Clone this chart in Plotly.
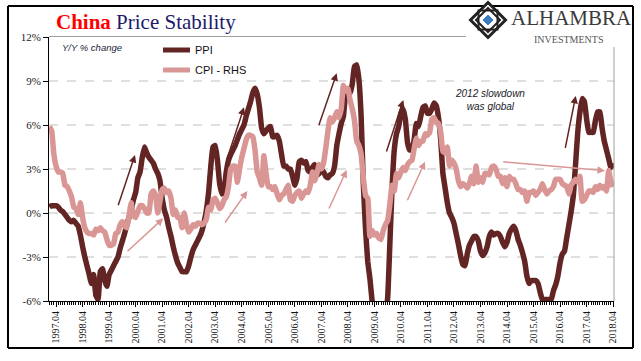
import plotly.graph_objects as go

# ---------------- data (monthly, Jan 1997 .. Apr 2018) ----------------
ppi = [
    0.4, 0.5, 0.5, 0.5, 0.4, 0.2, 0.1, -0.1, -0.3, -0.5, -0.6, -0.5,          # 1997
    -0.7, -0.9, -1.5, -2.3, -3.0, -3.6, -4.2, -4.8, -4.2, -5.6, -5.9, -4.0,   # 1998
    -3.8, -4.6, -5.0, -4.2, -3.9, -3.6, -3.3, -3.0, -2.4, -1.9, -1.4, -0.8,   # 1999
    -0.3, 0.2, 0.9, 1.4, 2.4, 2.8, 3.8, 4.5, 4.1, 3.8, 3.6, 3.4,              # 2000
    3.0, 2.7, 2.2, 1.0, 0.2, -0.3, -1.0, -1.6, -2.3, -2.9, -3.4, -3.7,        # 2001
    -4.0, -4.0, -4.0, -3.6, -3.0, -2.5, -2.2, -1.9, -1.6, -1.2, -0.6, 0.2,    # 2002
    1.4, 3.2, 4.5, 4.6, 3.6, 2.0, 1.3, 1.6, 2.8, 3.6, 4.0, 4.3,               # 2003
    4.6, 5.0, 5.4, 5.7, 6.0, 6.6, 7.1, 7.6, 8.2, 8.5, 8.1, 7.2,               # 2004
    5.8, 5.4, 5.6, 5.8, 5.9, 5.2, 5.2, 5.3, 4.9, 4.0, 3.2, 3.2,               # 2005
    3.0, 3.0, 2.5, 1.9, 2.4, 3.5, 3.6, 3.4, 3.5, 2.9, 2.8, 3.1,               # 2006
    3.3, 2.6, 2.7, 2.9, 2.8, 2.5, 2.4, 2.6, 2.7, 3.2, 4.6, 5.4,               # 2007
    6.1, 6.6, 8.0, 8.1, 8.2, 8.8, 10.0, 10.1, 9.1, 6.6, 2.0, -1.1,            # 2008
    -3.3, -4.5, -6.0, -6.6, -7.2, -7.8, -8.2, -7.9, -7.0, -5.8, -2.1, 1.7,    # 2009
    4.3, 5.4, 5.9, 6.8, 7.1, 6.4, 4.8, 4.3, 4.3, 5.0, 6.1, 5.9,               # 2010
    6.6, 7.2, 7.3, 6.8, 6.8, 7.1, 7.5, 7.3, 6.5, 5.0, 2.7, 1.7,               # 2011
    0.7, 0.0, -0.3, -0.7, -1.4, -2.1, -2.9, -3.5, -3.6, -2.8, -2.2, -1.9,     # 2012
    -1.6, -1.6, -1.9, -2.6, -2.9, -2.7, -2.3, -1.6, -1.3, -1.5, -1.4, -1.4,   # 2013
    -1.6, -2.0, -2.3, -2.0, -1.4, -1.1, -0.9, -1.2, -1.8, -2.2, -2.7, -3.3,   # 2014
    -4.3, -4.8, -4.6, -4.6, -4.6, -4.8, -5.4, -5.9, -5.9, -5.9, -5.9, -5.9,   # 2015
    -5.3, -4.9, -4.3, -3.4, -2.8, -2.6, -1.7, -0.8, 0.1, 1.2, 3.3, 5.5,       # 2016
    6.9, 7.8, 7.6, 6.4, 5.5, 5.5, 5.5, 6.3, 6.9, 6.9, 5.8, 4.9,               # 2017
    4.3, 3.7, 3.1, 3.4,                                                       # 2018
]

cpi = [
    5.9, 5.6, 4.0, 3.2, 2.8, 2.8, 2.7, 1.9, 1.8, 1.5, 1.1, 0.4,               # 1997
    0.3, -0.1, 0.7, -0.3, -1.0, -1.3, -1.4, -1.4, -1.5, -1.1, -1.2, -1.0,     # 1998
    -1.2, -1.3, -1.8, -2.2, -2.2, -2.1, -1.4, -1.3, -0.8, -0.6, -0.9, -1.0,   # 1999
    -0.2, 0.7, -0.2, -0.3, 0.1, 0.5, 0.5, 0.3, 0.0, 0.0, 1.3, 1.5,            # 2000
    1.2, 0.0, 0.8, 1.6, 1.7, 1.4, 1.5, 1.0, -0.1, 0.2, -0.3, -0.3,           # 2001
    -1.0, 0.0, -0.8, -1.3, -1.1, -0.8, -0.9, -0.7, -0.7, -0.8, -0.7, -0.4,    # 2002
    0.4, 0.2, 0.9, 1.0, 0.7, 0.3, 0.5, 0.9, 1.1, 1.8, 3.0, 3.2,               # 2003
    3.2, 2.1, 3.0, 3.8, 4.4, 5.0, 5.3, 5.3, 5.2, 4.3, 2.8, 2.4,               # 2004
    1.9, 3.9, 2.7, 1.8, 1.8, 1.6, 1.8, 1.3, 0.9, 1.2, 1.3, 1.6,               # 2005
    1.9, 0.9, 0.8, 1.2, 1.4, 1.5, 1.0, 1.3, 1.5, 1.4, 1.9, 2.8,               # 2006
    2.2, 2.7, 3.3, 3.0, 3.4, 4.4, 5.6, 6.5, 6.2, 6.5, 6.9, 6.5,               # 2007
    7.1, 8.7, 8.3, 8.5, 7.7, 7.1, 6.3, 4.9, 4.6, 4.0, 2.4, 1.2,               # 2008
    1.0, -1.6, -1.2, -1.5, -1.4, -1.7, -1.8, -1.2, -0.8, -0.5, 0.6, 1.9,      # 2009
    1.5, 2.7, 2.4, 2.8, 3.1, 2.9, 3.3, 3.5, 3.6, 4.4, 5.1, 4.6,               # 2010
    4.9, 4.9, 5.4, 5.3, 5.5, 6.4, 6.5, 6.2, 6.1, 5.5, 4.2, 4.1,               # 2011
    4.5, 3.2, 3.6, 3.4, 3.0, 2.2, 1.8, 2.0, 1.9, 1.7, 2.0, 2.5,               # 2012
    2.0, 3.2, 2.1, 2.4, 2.1, 2.7, 2.7, 2.6, 3.1, 3.2, 3.0, 2.5,               # 2013
    2.5, 2.0, 2.4, 1.8, 2.5, 2.3, 2.3, 2.0, 1.6, 1.6, 1.4, 1.5,               # 2014
    0.8, 1.4, 1.4, 1.5, 1.2, 1.4, 1.6, 2.0, 1.6, 1.3, 1.5, 1.6,               # 2015
    1.8, 2.3, 2.3, 2.3, 2.0, 1.9, 1.8, 1.3, 1.9, 2.1, 2.3, 2.1,               # 2016
    2.5, 0.8, 0.9, 1.2, 1.5, 1.5, 1.4, 1.8, 1.6, 1.9, 1.7, 1.8,               # 2017
    1.5, 2.9, 2.1, 1.8,                                                       # 2018
]

months = [f"{1997 + i // 12}.{i % 12 + 1:02d}" for i in range(len(ppi))]
x_tick_idx = [i for i, m in enumerate(months) if m.endswith(".04")]
x_tick_labels = [months[i] for i in x_tick_idx]
y_ticks = [-6, -3, 0, 3, 6, 9, 12]
y_tick_labels = ["-6%", "-3%", "0%", "3%", "6%", "9%", "12%"]
grid_levels = [-3, 0, 3, 6, 9]

# ---------------- styling ----------------
PPI_COLOR = "#632523"
CPI_COLOR = "#D99694"
W, H = 641, 361
L, R, T, B = 49, 27, 37, 60
PW, PH = W - L - R, H - T - B


def px(xp):
    return (xp - L) / PW


def py(yp):
    return (H - B - yp) / PH


xs = list(range(len(months)))

fig = go.Figure()
fig.add_trace(go.Scatter(x=xs, y=ppi, mode="lines", name="PPI",
                         line=dict(color=PPI_COLOR, width=5.5, shape="spline", smoothing=0.4),
                         showlegend=False))
fig.add_trace(go.Scatter(x=xs, y=cpi, mode="lines", name="CPI - RHS", yaxis="y2",
                         line=dict(color=CPI_COLOR, width=5.5, shape="spline", smoothing=0.4),
                         showlegend=False))

shapes = []
for g in grid_levels:
    shapes.append(dict(type="line", xref="paper", yref="y", x0=0, x1=1, y0=g, y1=g,
                       line=dict(color="#BFBFBF", width=1, dash="dash"), layer="below"))
# top gray rule and right gray axis
shapes.append(dict(type="line", xref="paper", yref="paper", x0=0, x1=px(466), y0=py(36.5), y1=py(36.5),
                   line=dict(color="#A0A0A0", width=1)))
shapes.append(dict(type="line", xref="paper", yref="paper", x0=px(614), x1=px(614), y0=py(47), y1=0,
                   line=dict(color="#A0A0A0", width=1)))
# outer border (four lines)
bx0, bx1, by0, by1 = px(8), px(633), py(348), py(6)
for (a, b, c, d) in [(bx0, by1, bx1, by1), (bx0, by0, bx1, by0), (bx0, by0, bx0, by1), (bx1, by0, bx1, by1)]:
    shapes.append(dict(type="line", xref="paper", yref="paper", x0=a, y0=b, x1=c, y1=d,
                       line=dict(color="black", width=2)))
# legend samples
for yy, col in [(50, PPI_COLOR), (70, CPI_COLOR)]:
    shapes.append(dict(type="line", xref="paper", yref="paper", x0=px(163), x1=px(190), y0=py(yy), y1=py(yy),
                       line=dict(color=col, width=5)))


def diamond(cx, cy, r):
    return (f"M {px(cx)},{py(cy - r)} L {px(cx + r)},{py(cy)} L {px(cx)},{py(cy + r)} "
            f"L {px(cx - r)},{py(cy)} Z")


def square(cx, cy, r):
    return (f"M {px(cx - r)},{py(cy - r)} L {px(cx + r)},{py(cy - r)} L {px(cx + r)},{py(cy + r)} "
            f"L {px(cx - r)},{py(cy + r)} Z")


cx, cy = 488, 20
shapes.append(dict(type="path", xref="paper", yref="paper", path=diamond(cx, cy, 17.5),
                   fillcolor="white", line=dict(color="#222", width=3)))
shapes.append(dict(type="path", xref="paper", yref="paper", path=square(cx, cy, 9.5),
                   line=dict(color="#222", width=2)))
shapes.append(dict(type="path", xref="paper", yref="paper", path=diamond(cx, cy, 12),
                   line=dict(color="#222", width=2)))
shapes.append(dict(type="path", xref="paper", yref="paper", path=diamond(cx, cy, 5),
                   fillcolor="#3C7DC4", line=dict(color="#3C7DC4", width=1)))

ann = []
ann.append(dict(xref="paper", yref="paper", x=px(54), y=py(22), xanchor="left", yanchor="middle",
                text="<b><span style='color:#FF0000'>China</span></b> "
                     "<span style='color:#1B1B6B'>Price Stability</span>",
                showarrow=False, font=dict(family="Liberation Serif", size=21)))
ann.append(dict(xref="paper", yref="paper", x=px(60), y=py(47.5), xanchor="left", yanchor="middle",
                text="<i>Y/Y % change</i>", showarrow=False,
                font=dict(family="Liberation Sans", size=9.5, color="#1C1C3C")))
ann.append(dict(xref="paper", yref="paper", x=px(193), y=py(50), xanchor="left", yanchor="middle",
                text="PPI", showarrow=False, font=dict(family="Liberation Sans", size=11, color="#111")))
ann.append(dict(xref="paper", yref="paper", x=px(193), y=py(70), xanchor="left", yanchor="middle",
                text="CPI - RHS", showarrow=False, font=dict(family="Liberation Sans", size=11, color="#111")))
ann.append(dict(xref="paper", yref="paper", x=px(490), y=py(100), xanchor="center", yanchor="middle",
                text="<i>2012 slowdown<br>was global</i>", showarrow=False,
                font=dict(family="Liberation Sans", size=10, color="#1A1A2A")))
ann.append(dict(xref="paper", yref="paper", x=px(509), y=py(18), xanchor="left", yanchor="middle",
                text="ALHAMBRA", showarrow=False,
                font=dict(family="Liberation Serif", size=21, color="#3A3A3A")))
ann.append(dict(xref="paper", yref="paper", x=px(568), y=py(39), xanchor="center", yanchor="middle",
                text="INVESTMENTS", showarrow=False,
                font=dict(family="Liberation Serif", size=10, color="#555")))

arrows = [
    ((117.7, 206.7), (135, 155), PPI_COLOR),
    ((126, 252.7), (163.3, 218.3), CPI_COLOR),
    ((226.7, 160), (244, 107.3), PPI_COLOR),
    ((224, 224), (247.3, 191), CPI_COLOR),
    ((318.3, 126.7), (336.7, 73.3), PPI_COLOR),
    ((328.3, 210), (346.7, 170), CPI_COLOR),
    ((386, 153), (403.3, 100), PPI_COLOR),
    ((406.7, 201.7), (425, 161.7), CPI_COLOR),
    ((565, 149.3), (575.7, 96), PPI_COLOR),
    ((501.7, 161.7), (605, 170.7), CPI_COLOR),
]
for (tx, ty), (hx, hy), col in arrows:
    ann.append(dict(xref="paper", yref="paper", x=px(hx), y=py(hy), ax=tx - hx, ay=ty - hy,
                    text="", showarrow=True, arrowhead=2, arrowsize=1, arrowwidth=1.5,
                    arrowcolor=col))

fig.update_layout(
    width=W, height=H,
    margin=dict(l=L, r=R, t=T, b=B),
    paper_bgcolor="white", plot_bgcolor="white",
    showlegend=False,
    shapes=shapes, annotations=ann,
    xaxis=dict(range=[-0.2, len(months) - 0.6], tickmode="array", tickvals=x_tick_idx,
               ticktext=x_tick_labels, tickangle=-90, ticks="outside", ticklen=5,
               tickcolor="black", showline=True, linecolor="black", linewidth=1,
               showgrid=False, zeroline=False,
               tickfont=dict(family="Liberation Serif", size=10, color="#111"),
               minor=dict(ticks="outside", ticklen=3, dtick=1, tick0=0,
                          tickcolor="black", showgrid=False)),
    yaxis=dict(range=[-6, 12], tickmode="array", tickvals=y_ticks, ticktext=y_tick_labels,
               ticks="outside", ticklen=5, tickcolor="black", showline=True,
               linecolor="black", linewidth=1, showgrid=False, zeroline=False,
               tickfont=dict(family="Liberation Serif", size=11, color="#222")),
    yaxis2=dict(range=[-6, 12], overlaying="y", side="right", showticklabels=False,
                showgrid=False, zeroline=False, showline=False, ticks=""),
)

fig.write_html("out.html", config={"displayModeBar": False},
               post_script="document.body.style.margin='0';document.body.style.overflow='hidden';")
